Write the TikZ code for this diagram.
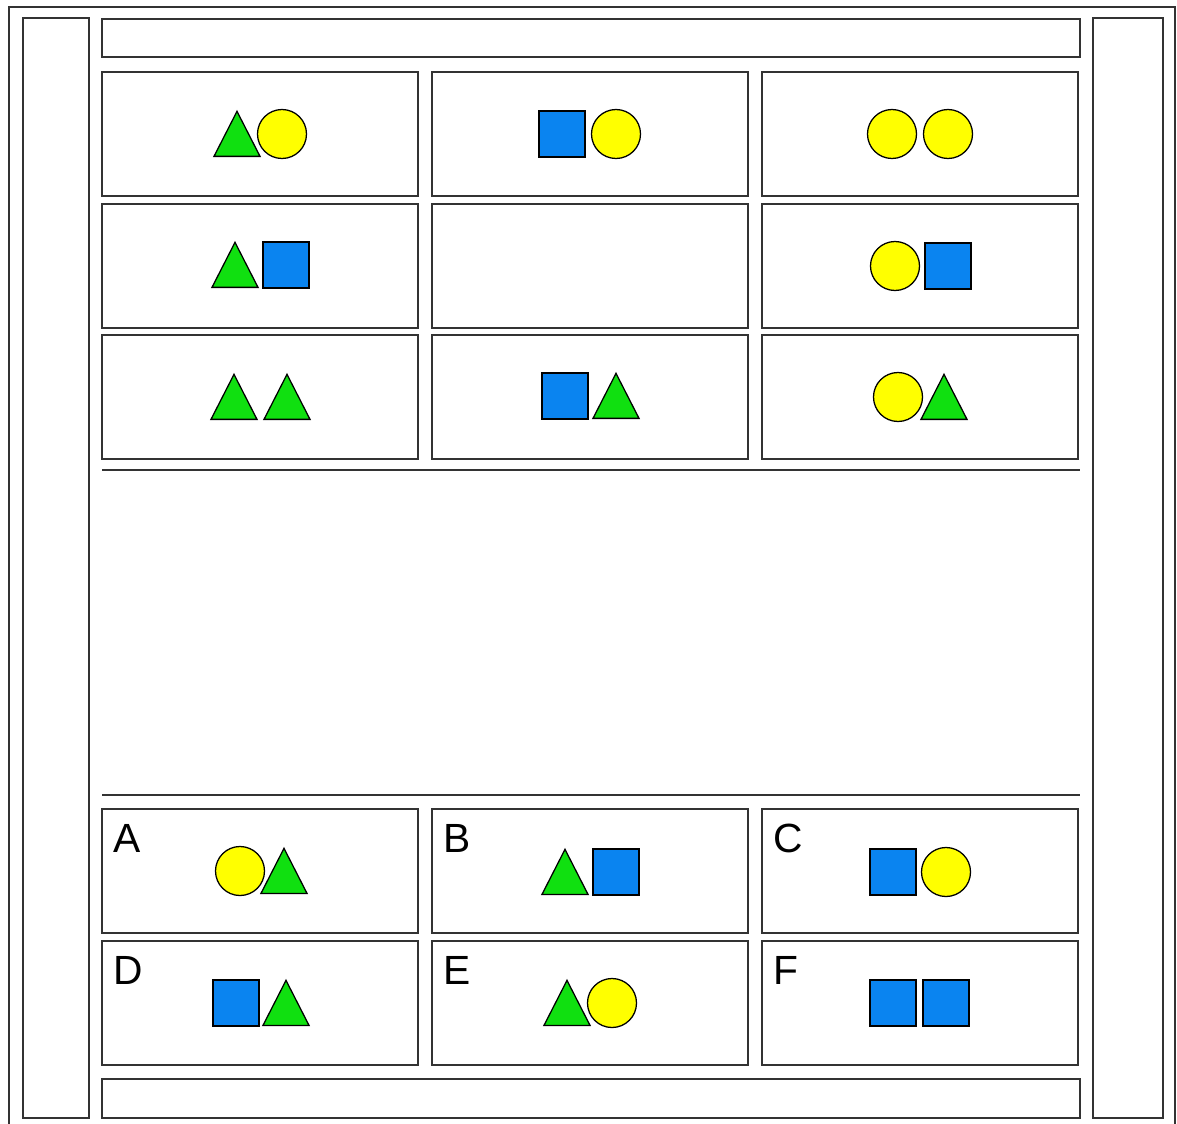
\documentclass[tikz,border=0pt]{standalone}
\usepackage{fontspec}
\setmainfont{Liberation Sans}
\usetikzlibrary{positioning, shapes.geometric}
\definecolor{edge}{gray}{0.2}
\definecolor{grnf}{HTML}{10E010}
\definecolor{yelf}{HTML}{FFFF00}
\definecolor{bluf}{HTML}{0A84F0}
\tikzset{
  frame/.style={draw=edge, line width=1.5pt},
  panel/.style={draw=edge, fill=white, line width=1.5pt, anchor=north west, inner sep=0pt, outer sep=0pt},
  cell/.style={panel, minimum width=7.9cm, minimum height=3.1cm},
  sq/.style={draw=black, fill=bluf, line width=0.9pt, minimum size=1.15cm, inner sep=0pt},
  ci/.style={circle, draw=black, fill=yelf, line width=0.9pt, minimum size=1.225cm, inner sep=0pt},
  tr/.style={isosceles triangle, isosceles triangle stretches, shape border rotate=90,
             draw=black, fill=grnf, line width=0.9pt, minimum width=1.15cm, minimum height=1.125cm,
             inner sep=0pt, anchor=lower side, yshift=-0.575cm},
  lbl/.style={anchor=base west, inner sep=0pt, font=\fontsize{29}{32}\selectfont},
}
\begin{document}
\begin{tikzpicture}[x=0.025cm, y=-0.025cm]
  \useasboundingbox (0,0) rectangle (1177,1124);
  % ---------------- frame and side panels ----------------
  \draw[frame] (9,7) rectangle (1175,1140);
  \node[panel, minimum width=1.65cm, minimum height=27.5cm] (lpan) at (23,18) {};
  \node[panel, minimum width=1.75cm, minimum height=27.5cm] (rpan) at (1093,18) {};
  \node[panel, minimum width=24.45cm, minimum height=0.95cm] (hdr) at (102,19) {};
  \node[panel, minimum width=24.45cm, minimum height=0.975cm] (ftr) at (102,1079) {};

  % ---------------- matrix ----------------
  \foreach \r/\y in {1/72, 2/204, 3/335}
    \foreach \c/\x in {1/102, 2/432, 3/762}
      \node[cell] (q\r\c) at (\x,\y) {};
  \draw[frame] (102,470) -- (1080,470);
  \draw[frame] (102,795) -- (1080,795);

  % ---------------- answer choices ----------------
  \foreach \n/\x/\y in {A/102/809, B/432/809, C/762/809, D/102/941, E/432/941, F/762/941}
  {
    \node[cell] (opt\n) at (\x,\y) {};
    \node[lbl] (lbl\n) at (\x+11,\y+43) {\n};
  }

  % ---------------- figures ----------------
  \foreach \a/\b/\y/\p/\q in {237/282/134/tr/ci, 562/616/134/sq/ci, 892/948/134/ci/ci,
                             235/286/265/tr/sq, 895/948/266/ci/sq,
                             234/287/397/tr/tr, 565/616/396/sq/tr, 898/944/397/ci/tr,
                             240/284/871/ci/tr, 565/616/872/tr/sq, 893/946/872/sq/ci,
                             236/286/1003/sq/tr, 567/612/1003/tr/ci, 893/946/1003/sq/sq}
  {
    \node[\p] at (\a,\y) {};
    \node[\q] at (\b,\y) {};
  }
\end{tikzpicture}
\end{document}
